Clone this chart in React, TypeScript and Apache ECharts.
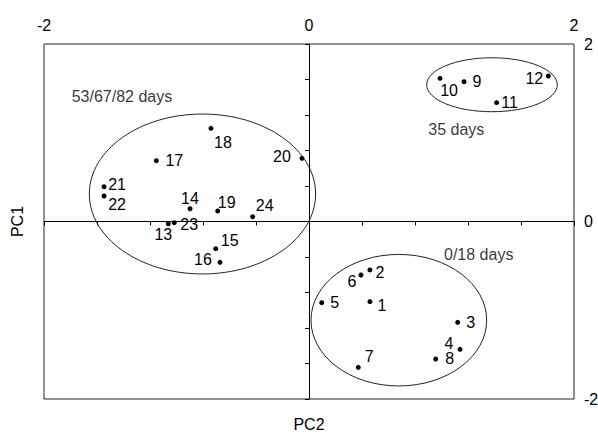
import React, { useEffect, useRef } from "react";
import * as echarts from "echarts";

const FONT = "'Liberation Sans', Arial, sans-serif";

// sample ids
const sampleIds = ["1","2","3","4","5","6","7","8","9","10","11","12","13","14","15","16","17","18","19","20","21","22","23","24"];
// PC2 (horizontal) scores
const pc2Values = [0.46,0.46,1.122,1.14,0.096,0.392,0.372,0.956,1.17,0.989,1.416,1.806,-1.062,-0.898,-0.704,-0.672,-1.152,-0.74,-0.689,-0.053,-1.547,-1.547,-1.017,-0.425];
// PC1 (vertical) scores
const pc1Values = [-0.903,-0.546,-1.136,-1.44,-0.915,-0.603,-1.643,-1.549,1.575,1.613,1.339,1.639,-0.025,0.144,-0.306,-0.46,0.685,1.05,0.118,0.712,0.392,0.287,-0.013,0.054];
// label offsets (pixels) for each sample label, relative to its dot
const labelOffsets: [number, number][] = [
  [12,4],[10,3],[13,0],[-11,-6],[13,0],[-9,6],[11,-11],[14,0],
  [13,0],[9,12],[13,0],[-14,2],
  [-5,11],[0,-10],[14,-8],[-17,-3],[18,0],[12,14],[9,-9],[-20,-2],[13,-2],[13,8],[15,2],[12,-11],
];

// group ellipses: centre x, centre y, radius x, radius y (data units)
const groupNames = ["53/67/82 days", "0/18 days", "35 days"];
const ellipseCx = [-0.804, 0.678, 1.381];
const ellipseCy = [0.31, -1.112, 1.541];
const ellipseRx = [0.854, 0.663, 0.493];
const ellipseRy = [0.901, 0.741, 0.304];
// group label anchors (left edge of text)
const groupLabelX = [-1.791, 1.019, 0.9];
const groupLabelY = [1.414, -0.377, 1.039];

const axisTicks = [-2, 0, 2];

export default function App() {
  const ref = useRef<HTMLDivElement>(null);
  useEffect(() => {
    if (!ref.current) return;
    const chart = echarts.init(ref.current, null, { renderer: "svg" });
    const txt = { fontFamily: FONT, fontSize: 16, color: "#000" };
    const hidden = {
      axisLine: { show: false },
      axisTick: { show: false },
      axisLabel: { show: false },
      splitLine: { show: false },
    };
    const pointData = sampleIds.map((id, i) => ({
      value: [pc2Values[i], pc1Values[i]],
      name: id,
      label: { offset: labelOffsets[i] },
    }));
    chart.setOption({
      animation: false,
      grid: {
        left: 44,
        right: 24,
        top: 44,
        bottom: 33,
        show: true,
        borderColor: "#222",
        borderWidth: 1,
        containLabel: false,
        outerBoundsMode: "none",
      },
      xAxis: [
        {
          type: "value",
          position: "top",
          min: axisTicks[0],
          max: axisTicks[2],
          interval: 2,
          axisLine: { show: false },
          axisTick: { show: false },
          splitLine: { show: false },
          axisLabel: { ...txt, margin: 11 },
        },
        {
          type: "value",
          position: "bottom",
          min: -2,
          max: 2,
          name: "PC2",
          nameLocation: "middle",
          nameGap: 17,
          nameTextStyle: txt,
          ...hidden,
        },
        {
          type: "value",
          position: "bottom",
          min: -2,
          max: 2,
          interval: 0.4,
          axisLine: { show: true, onZero: true, onZeroAxisIndex: 2, lineStyle: { color: "#000", width: 1 } },
          axisTick: { show: true, length: 4, lineStyle: { color: "#000" } },
          axisLabel: { show: false },
          splitLine: { show: false },
        },
      ],
      yAxis: [
        {
          type: "value",
          position: "right",
          min: axisTicks[0],
          max: axisTicks[2],
          interval: 2,
          axisLine: { show: false },
          axisTick: { show: false },
          splitLine: { show: false },
          axisLabel: { ...txt, margin: 10 },
        },
        {
          type: "value",
          position: "left",
          min: -2,
          max: 2,
          name: "PC1",
          nameLocation: "middle",
          nameGap: 19,
          nameRotate: 90,
          nameTextStyle: txt,
          ...hidden,
        },
        {
          type: "value",
          position: "left",
          min: -2,
          max: 2,
          interval: 0.4,
          axisLine: { show: true, onZero: true, onZeroAxisIndex: 2, lineStyle: { color: "#000", width: 1 } },
          axisTick: { show: true, length: 4, lineStyle: { color: "#000" } },
          axisLabel: { show: false },
          splitLine: { show: false },
        },
      ],
      series: [
        {
          type: "custom",
          xAxisIndex: 2,
          yAxisIndex: 2,
          data: groupNames.map((_, i) => [ellipseCx[i], ellipseCy[i], ellipseRx[i], ellipseRy[i]]),
          renderItem: (params: any, api: any) => {
            const c = api.coord([api.value(0), api.value(1)]);
            const s = api.size([api.value(2), api.value(3)]);
            return {
              type: "ellipse",
              shape: { cx: c[0], cy: c[1], rx: s[0], ry: s[1] },
              style: { fill: "none", stroke: "#222", lineWidth: 1 },
            };
          },
          silent: true,
        },
        {
          type: "scatter",
          xAxisIndex: 2,
          yAxisIndex: 2,
          symbolSize: 5,
          itemStyle: { color: "#000", opacity: 1 },
          label: {
            show: true,
            position: "inside",
            formatter: "{b}",
            ...txt,
            align: "center",
            verticalAlign: "middle",
          },
          data: pointData,
        },
        {
          type: "scatter",
          xAxisIndex: 2,
          yAxisIndex: 2,
          symbolSize: 0,
          label: {
            show: true,
            position: "right",
            distance: 0,
            formatter: "{b}",
            ...txt,
          },
          data: groupNames.map((n, i) => ({ name: n, value: [groupLabelX[i], groupLabelY[i]] })),
        },
      ],
    });
    return () => chart.dispose();
  }, []);
  return (
    <div
      ref={ref}
      style={{ position: "fixed", left: 0, top: 0, width: 598, height: 432, background: "#fff" }}
    />
  );
}
